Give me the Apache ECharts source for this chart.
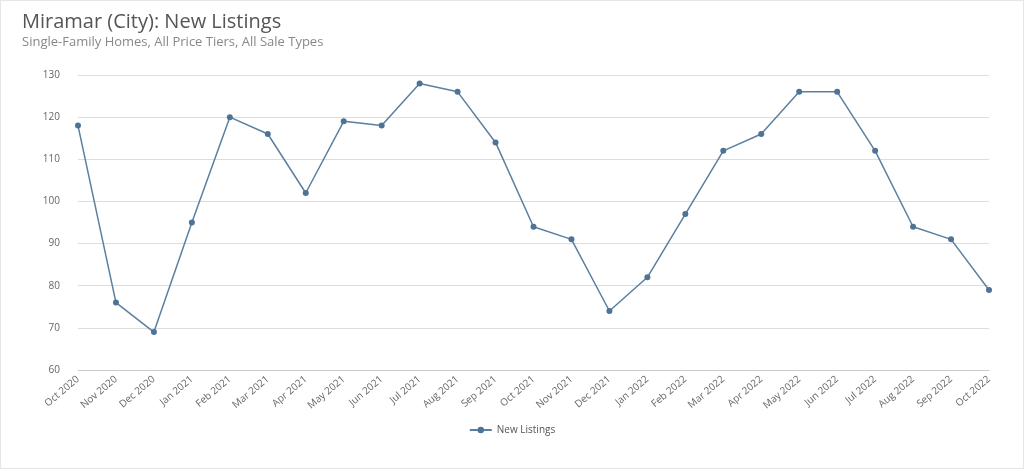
<!DOCTYPE html>
<html>
<head>
<meta charset="utf-8">
<script src="https://cdn.jsdelivr.net/npm/echarts@6/dist/echarts.min.js"></script>
<style>
  html, body { margin: 0; padding: 0; background: #fff; }
  #chart { width: 1024px; height: 469px; box-sizing: border-box; border: 1px solid #e6e6e6; }
</style>
</head>
<body>
<div id="chart"></div>
<script>
// months along the x axis
const months = ['Oct 2020', 'Nov 2020', 'Dec 2020', 'Jan 2021', 'Feb 2021', 'Mar 2021', 'Apr 2021',
  'May 2021', 'Jun 2021', 'Jul 2021', 'Aug 2021', 'Sep 2021', 'Oct 2021', 'Nov 2021', 'Dec 2021',
  'Jan 2022', 'Feb 2022', 'Mar 2022', 'Apr 2022', 'May 2022', 'Jun 2022', 'Jul 2022', 'Aug 2022',
  'Sep 2022', 'Oct 2022'];
const newListings = [118, 76, 69, 95, 120, 116, 102, 119, 118, 128, 126, 114, 94, 91, 74,
  82, 97, 112, 116, 126, 126, 112, 94, 91, 79];

var chart = echarts.init(document.getElementById('chart'));
const font = '"Open Sans", "Noto Sans", sans-serif';

chart.setOption({
  animation: false,
  textStyle: { fontFamily: font },
  title: {
    text: 'Miramar (City): New Listings',
    subtext: 'Single-Family Homes, All Price Tiers, All Sale Types',
    left: 16, top: 6,
    itemGap: 4,
    textStyle: { fontSize: 20, fontWeight: 'normal', color: '#555', fontFamily: font },
    subtextStyle: { fontSize: 13, color: '#888', fontFamily: font }
  },
  legend: {
    bottom: 28,
    itemWidth: 22, itemHeight: 8,
    textStyle: { fontSize: 10, color: '#555' },
    data: ['New Listings']
  },
  grid: { left: 77, right: 34, top: 74, bottom: 98 },
  xAxis: {
    type: 'category',
    data: months,
    boundaryGap: false,
    axisLine: { lineStyle: { color: '#ccc' } },
    axisTick: { show: false },
    axisLabel: { rotate: 40, fontSize: 10, color: '#666', interval: 0, margin: 8 }
  },
  yAxis: {
    type: 'value',
    min: 60, max: 130, interval: 10,
    axisLine: { show: false },
    axisTick: { show: false },
    axisLabel: { fontSize: 10, color: '#666', margin: 18 },
    splitLine: { lineStyle: { color: '#ddd' } }
  },
  series: [{
    name: 'New Listings',
    type: 'line',
    data: newListings,
    symbol: 'circle',
    symbolSize: 6,
    lineStyle: { color: '#5b7f9f', width: 1.5 },
    itemStyle: { color: '#4f7394' }
  }]
});
</script>
</body>
</html>
